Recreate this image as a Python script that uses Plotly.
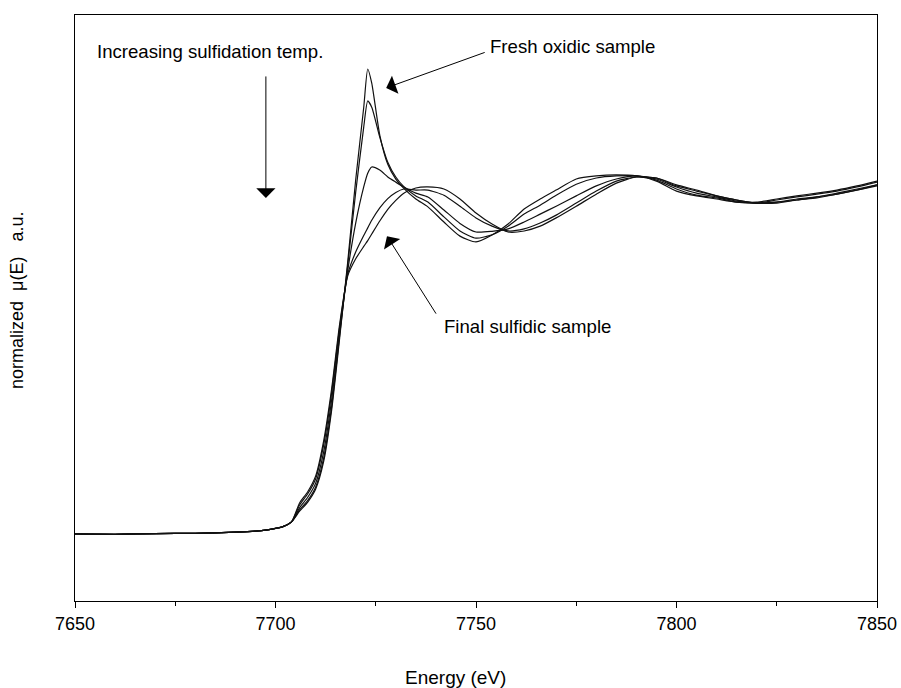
import plotly.graph_objects as go

energy = [7650, 7660, 7670, 7680, 7690, 7695, 7698, 7700, 7702, 7704, 7706, 7708, 7710, 7712,
          7714, 7716, 7718, 7720, 7722, 7723, 7724, 7726, 7728, 7730, 7732, 7735, 7738, 7742,
          7746, 7750, 7754, 7758, 7762, 7766, 7770, 7775, 7780, 7785, 7790, 7795, 7800, 7805,
          7810, 7815, 7820, 7825, 7830, 7835, 7840, 7845, 7850]

pre_edge = [0.000, -0.001, 0.001, 0.002, 0.005, 0.008, 0.012, 0.016, 0.022, 0.035]

fresh_oxidic = pre_edge + [0.066, 0.092, 0.130, 0.210, 0.360, 0.570, 0.790, 1.030, 1.240, 1.352,
                           1.311, 1.160, 1.075, 1.032, 1.005, 0.974, 0.951, 0.907, 0.866, 0.849,
                           0.869, 0.901, 0.945, 0.974, 1.000, 1.032, 1.041, 1.044, 1.041, 1.026,
                           0.997, 0.983, 0.974, 0.965, 0.965, 0.974, 0.983, 0.991, 1.000, 1.012, 1.026]
sulf_step2 = pre_edge + [0.070, 0.097, 0.136, 0.220, 0.370, 0.578, 0.780, 0.994, 1.183, 1.259,
                         1.241, 1.154, 1.081, 1.038, 1.010, 0.983, 0.965, 0.922, 0.881, 0.860,
                         0.870, 0.895, 0.930, 0.956, 0.985, 1.017, 1.035, 1.041, 1.041, 1.029,
                         1.003, 0.985, 0.977, 0.965, 0.962, 0.971, 0.980, 0.988, 0.997, 1.009, 1.023]
sulf_step3 = pre_edge + [0.076, 0.106, 0.147, 0.238, 0.390, 0.590, 0.765, 0.904, 1.009, 1.049,
                         1.067, 1.058, 1.038, 1.023, 1.009, 0.991, 0.980, 0.942, 0.903, 0.878,
                         0.880, 0.887, 0.907, 0.930, 0.953, 0.983, 1.012, 1.032, 1.041, 1.032,
                         1.009, 0.991, 0.980, 0.968, 0.962, 0.965, 0.974, 0.980, 0.991, 1.003, 1.015]
sulf_step4 = pre_edge + [0.084, 0.116, 0.160, 0.258, 0.410, 0.602, 0.755, 0.820, 0.868, 0.890,
                         0.912, 0.948, 0.975, 0.993, 1.003, 1.000, 1.000, 0.985, 0.953, 0.919,
                         0.895, 0.881, 0.887, 0.904, 0.927, 0.962, 0.997, 1.026, 1.038, 1.035,
                         1.012, 0.997, 0.983, 0.971, 0.962, 0.965, 0.971, 0.980, 0.988, 1.000, 1.015]
final_sulfidic = pre_edge + [0.090, 0.122, 0.168, 0.270, 0.422, 0.610, 0.750, 0.800, 0.836, 0.853,
                             0.872, 0.910, 0.944, 0.970, 0.991, 1.006, 1.009, 1.003, 0.974, 0.933,
                             0.901, 0.878, 0.881, 0.895, 0.919, 0.953, 0.988, 1.020, 1.038, 1.035,
                             1.015, 1.000, 0.983, 0.971, 0.962, 0.962, 0.971, 0.977, 0.988, 1.000, 1.012]

series = [fresh_oxidic, sulf_step2, sulf_step3, sulf_step4, final_sulfidic]
x_ticks = [7650, 7700, 7750, 7800, 7850]

FONT = "Liberation Sans, Arial, sans-serif"
LABEL_SIZE = 18.6

fig = go.Figure()
for s in series:
    fig.add_trace(go.Scatter(x=energy, y=s, mode="lines",
                             line=dict(color="#111111", width=1.2, shape="spline", smoothing=0.6),
                             showlegend=False, hoverinfo="skip"))

fig.update_layout(
    width=901, height=688,
    margin=dict(l=75, r=24, t=15, b=87),
    paper_bgcolor="white", plot_bgcolor="white",
    font=dict(family=FONT, color="black", size=18),
    xaxis=dict(range=[7650, 7850], tickvals=x_ticks, ticktext=[str(t) for t in x_ticks],
               ticks="outside", ticklen=6, tickwidth=1.3, tickcolor="black",
               minor=dict(ticks="outside", dtick=25, tick0=7650, ticklen=4, tickwidth=1.2,
                          tickcolor="black", showgrid=False),
               showline=True, linecolor="black", linewidth=1.3, mirror=True, automargin=False,
               showgrid=False, zeroline=False, tickfont=dict(size=18, family=FONT)),
    yaxis=dict(range=[-0.195, 1.509], showticklabels=False, ticks="", automargin=False,
               showline=True, linecolor="black", linewidth=1.3, mirror=True,
               showgrid=False, zeroline=False),
)

ann = []
# axis titles
ann.append(dict(text="Energy (eV)", xref="paper", yref="paper", x=0.475, y=-0.1297,
                showarrow=False, font=dict(size=19, family=FONT), xanchor="center", yanchor="middle"))
ann.append(dict(text="normalized\u00a0\u00a0\u03bc(E)\u00a0\u00a0\u00a0a.u.", xref="paper", yref="paper",
                x=-0.0723, y=0.512, textangle=-90, showarrow=False,
                font=dict(size=18, family=FONT), xanchor="center", yanchor="middle"))
# labels
ann.append(dict(text="Increasing sulfidation temp.", xref="paper", yref="paper", x=0.0255, y=0.937,
                showarrow=False, xanchor="left", yanchor="middle", font=dict(size=LABEL_SIZE, family=FONT)))
ann.append(dict(text="Fresh oxidic sample", xref="paper", yref="paper", x=0.5155, y=0.947,
                showarrow=False, xanchor="left", yanchor="middle", font=dict(size=LABEL_SIZE, family=FONT)))
ann.append(dict(text="Final sulfidic sample", xref="paper", yref="paper", x=0.457, y=0.469,
                showarrow=False, xanchor="left", yanchor="middle", font=dict(size=LABEL_SIZE, family=FONT)))
# arrows
arrow_common = dict(text="", showarrow=True, arrowhead=1, arrowsize=3.2, arrowwidth=1,
                    arrowcolor="black", xref="x", yref="y", axref="pixel", ayref="pixel", standoff=0)
ann.append(dict(x=7697.6, y=0.977, ax=0, ay=-123, **arrow_common))
ann.append(dict(x=7727.6, y=1.297, ax=100, ay=-36, **arrow_common))
ann.append(dict(x=7727.8, y=0.866, ax=50, ay=79, **arrow_common))
fig.update_layout(annotations=ann)

fig.write_html("out.html", config={"displayModeBar": False},
               post_script="document.body.style.margin='0';")
